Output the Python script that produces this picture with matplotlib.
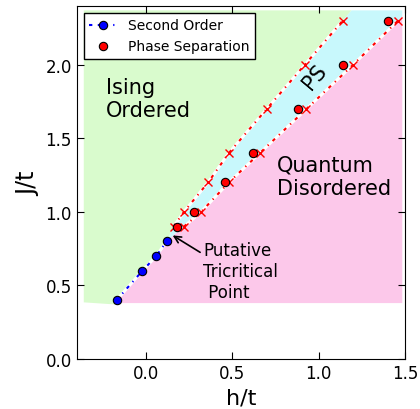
import matplotlib
matplotlib.use("Agg")
import matplotlib.pyplot as plt
import numpy as np

# ---- data ----
so_h = [-0.17, -0.02, 0.06, 0.12]
so_J = [0.40, 0.60, 0.70, 0.80]

ps_h = [0.18, 0.28, 0.46, 0.62, 0.88, 1.14, 1.40]
ps_J = [0.90, 1.00, 1.20, 1.40, 1.70, 2.00, 2.30]

upper_h = [0.16, 0.22, 0.36, 0.48, 0.70, 0.92, 1.14]
upper_J = [0.90, 1.00, 1.20, 1.40, 1.70, 2.00, 2.30]
lower_h = [0.22, 0.32, 0.48, 0.66, 0.93, 1.20, 1.46]
lower_J = [0.90, 1.00, 1.20, 1.40, 1.70, 2.00, 2.30]

# region bounds of shaded phase areas
region_h = [-0.36, 1.485]
region_J = [0.38, 2.37]

xticks = [0.0, 0.5, 1.0, 1.5]
yticks = [0.0, 0.5, 1.0, 1.5, 2.0]

green = "#d9fbcd"
cyan = "#c8f8fc"
pink = "#fcc8ea"

fig = plt.figure(figsize=(4.2, 4.1), dpi=100)
ax = fig.add_axes([0.183, 0.122, 0.781, 0.861])

hmin, hmax = region_h
Jmin, Jmax = region_J

slope_u = (upper_h[-1] - upper_h[-2]) / (upper_J[-1] - upper_J[-2])
h_u_top = upper_h[-1] + slope_u * (Jmax - upper_J[-1])
slope_l = (lower_h[-1] - lower_h[-2]) / (lower_J[-1] - lower_J[-2])
J_l_edge = lower_J[-1] + (hmax - lower_h[-1]) / slope_l

# green: Ising ordered
gx = [hmin, so_h[0]] + so_h + upper_h + [h_u_top, hmin]
gy = [Jmin + 0.005, Jmin - 0.01] + so_J + upper_J + [Jmax, Jmax]
ax.fill(gx, gy, color=green, lw=0, zorder=0)

# cyan: phase separation
cx = so_h[-1:] + upper_h + [h_u_top, hmax, hmax] + lower_h[::-1] + so_h[-1:]
cy = so_J[-1:] + upper_J + [Jmax, Jmax, J_l_edge] + lower_J[::-1] + so_J[-1:]
ax.fill(cx, cy, color=cyan, lw=0, zorder=0)

# pink: quantum disordered
px = [so_h[0]] + so_h + lower_h + [hmax, hmax]
py = [Jmin] + so_J + lower_J + [J_l_edge, Jmin]
ax.fill(px, py, color=pink, lw=0, zorder=0)

# white seams along the boundaries
for hh, jj in [(upper_h, upper_J), (lower_h, lower_J), (so_h, so_J)]:
    ax.plot(hh, jj, color="white", lw=2.2, solid_capstyle="butt", zorder=1)

dash = (0, (1.6, 2.6, 0.6, 2.6))
ax.plot(upper_h, upper_J, color="red", ls=dash, lw=1.5, marker="x", ms=6,
        mew=1, zorder=2)
ax.plot(lower_h, lower_J, color="red", ls=dash, lw=1.5, marker="x", ms=6,
        mew=1, zorder=2)
ax.plot(so_h, so_J, color="blue", ls=dash, lw=1.5, marker="o", ms=6,
        mec="k", mew=0.8, label="Second Order", zorder=3)
ax.plot(ps_h, ps_J, "ro", ms=6, mec="k", mew=0.8, label="Phase Separation",
        zorder=3)

ax.text(-0.23, 1.77, "Ising\nOrdered", fontsize=15, va="center", ha="left")
ax.text(0.76, 1.24, "Quantum\nDisordered", fontsize=15, va="center", ha="left")
ax.text(0.98, 1.92, "PS", fontsize=15, rotation=50, va="center", ha="center")
ax.annotate("Putative\nTricritical\n Point", xy=(0.155, 0.84), xytext=(0.33, 0.60),
            fontsize=12, va="center", ha="left",
            arrowprops=dict(arrowstyle="->", color="k", lw=1.2,
                            shrinkA=0, shrinkB=0, relpos=(0, 0.78)))

ax.set_xlim(-0.4, 1.5)
ax.set_ylim(0, 2.4)
ax.set_xticks(xticks)
ax.set_yticks(yticks)
ax.tick_params(direction="in", top=True, right=True, labelsize=12, length=5)
ax.set_xlabel("h/t", fontsize=16)
ax.set_ylabel("J/t", fontsize=17)

leg = ax.legend(loc="upper left", fontsize=10, fancybox=False, framealpha=1,
                numpoints=1)
leg.get_frame().set_edgecolor("k")

fig.savefig("out.png", dpi=100)
